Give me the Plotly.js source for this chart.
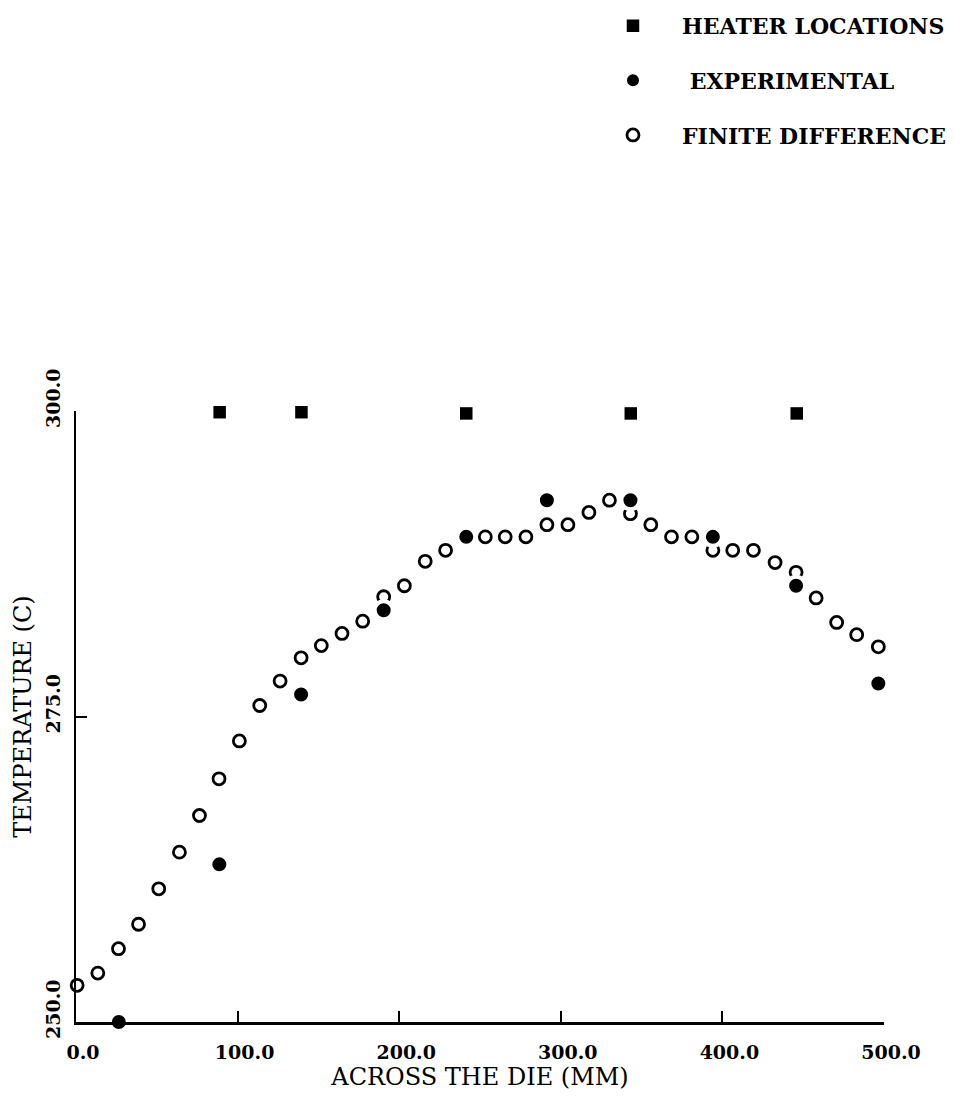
<!DOCTYPE html>
<html>
<head>
<meta charset="utf-8">
<script src="https://cdn.plot.ly/plotly-3.0.1.min.js"></script>
<style>html,body{margin:0;padding:0;background:#fff;}#chart{width:955px;height:1099px;}</style>
</head>
<body>
<div id="chart"></div>
<script>
// Heater locations (mm, deg C)
const heaterX = [88.9, 139.5, 241.5, 343.3, 446.0];
const heaterY = [299.9, 299.9, 299.8, 299.8, 299.8];

// Experimental measurements
const expX = [26.5, 88.7, 139.3, 190.4, 241.5, 291.4, 343.1, 394.1, 445.6, 496.5];
const expY = [250.0, 262.9, 276.8, 283.7, 289.7, 292.7, 292.7, 289.7, 285.7, 277.7];

// Finite difference solution
const fdX = [0.7, 13.5, 26.3, 38.7, 51.2, 64.0, 76.4, 88.5, 101.1, 113.7,
             126.3, 139.3, 151.8, 164.6, 177.4, 190.4, 203.2, 216.1, 228.7, 241.5,
             253.3, 265.6, 278.4, 291.4, 304.4, 317.4, 330.1, 343.1, 355.7, 368.5,
             381.1, 394.1, 406.4, 419.2, 432.6, 445.6, 458.0, 470.7, 483.1, 496.5];
const fdY = [253.0, 254.0, 256.0, 258.0, 260.9, 263.9, 266.9, 269.9, 273.0, 275.9,
             277.9, 279.8, 280.8, 281.8, 282.8, 284.8, 285.7, 287.7, 288.6, 289.7,
             289.7, 289.7, 289.7, 290.7, 290.7, 291.7, 292.7, 291.6, 290.7, 289.7,
             289.7, 288.6, 288.6, 288.6, 287.6, 286.8, 284.7, 282.7, 281.7, 280.7];

const xTicks = [0, 100, 200, 300, 400, 500];
const xTickText = ['0.0', '100.0', '200.0', '300.0', '400.0', '500.0'];
const yTicks = [250, 275, 300];
const yTickText = ['250.0', '275.0', '300.0'];

const legendNames = ['HEATER LOCATIONS', '\u00a0EXPERIMENTAL', 'FINITE DIFFERENCE'];

const traces = [
  {
    x: heaterX, y: heaterY, type: 'scatter', mode: 'markers', name: legendNames[0],
    legendgroup: 'a', legendrank: 1, cliponaxis: false,
    marker: {symbol: 'square', size: 12.5, color: '#000'}
  },
  {
    x: fdX, y: fdY, type: 'scatter', mode: 'markers', name: legendNames[2],
    legendgroup: 'c', legendrank: 3, cliponaxis: false,
    marker: {symbol: 'circle-open', size: 12, color: '#000', line: {width: 2.8, color: '#000'}}
  },
  {
    x: expX, y: expY, type: 'scatter', mode: 'markers', name: legendNames[1],
    legendgroup: 'b', legendrank: 2, cliponaxis: false,
    marker: {symbol: 'circle', size: 18, color: '#000', line: {width: 4, color: '#fff'}}
  }
];

const tickFont = {family: 'DejaVu Serif', size: 19, color: '#000', weight: 'bold'};
const titleFont = {family: 'DejaVu Serif', size: 24, color: '#000'};

const layout = {
  width: 955, height: 1099,
  paper_bgcolor: '#fff', plot_bgcolor: '#fff',
  margin: {l: 76, r: 71, t: 411, b: 77, pad: 0, autoexpand: false},
  showlegend: true,
  legend: {
    xref: 'container', yref: 'container',
    x: 0.6115, y: 0.9955, xanchor: 'left', yanchor: 'top',
    font: {family: 'DejaVu Serif', size: 22, color: '#000', weight: 'bold'},
    tracegroupgap: 23, itemwidth: 88, bgcolor: 'rgba(0,0,0,0)',
    traceorder: 'grouped'
  },
  xaxis: {
    range: [0, 500], autorange: false, automargin: false,
    showgrid: false, zeroline: false, showline: true, linecolor: '#000', linewidth: 2.5,
    ticks: 'inside', ticklen: 11, tickwidth: 2, tickcolor: '#000',
    tickmode: 'array', tickvals: xTicks, ticktext: xTickText,
    tickfont: tickFont, ticklabelshift: 7, ticklabelstandoff: 12,
    title: {text: 'ACROSS THE DIE (MM)', font: titleFont, standoff: 5}
  },
  yaxis: {
    range: [250, 300], autorange: false, automargin: false,
    showgrid: false, zeroline: false, showline: true, linecolor: '#000', linewidth: 2.5,
    ticks: 'inside', ticklen: 11, tickwidth: 2, tickcolor: '#000',
    tickmode: 'array', tickvals: yTicks, ticktext: yTickText,
    tickfont: tickFont, tickangle: -90, ticklabelshift: -10, ticklabelstandoff: 6,
    title: {text: 'TEMPERATURE (C)', font: titleFont, standoff: 4}
  }
};

Plotly.newPlot('chart', traces, layout, {displayModeBar: false, staticPlot: true});
</script>
</body>
</html>
